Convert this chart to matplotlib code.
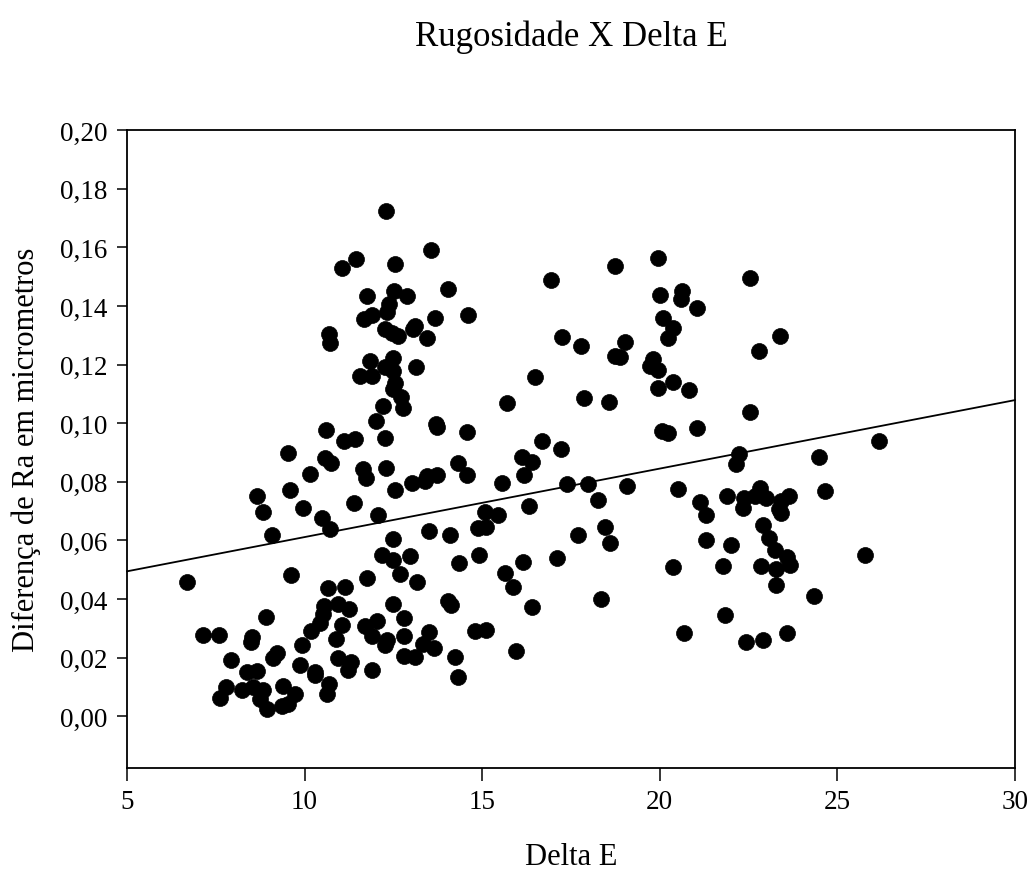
import matplotlib
matplotlib.use("Agg")
import matplotlib.pyplot as plt
import numpy as np

plt.rcParams['font.family'] = ['Liberation Serif', 'DejaVu Serif']

title = "Rugosidade X Delta E"
x_label = "Delta E"
y_label = "Diferença de Ra em micrometros"

delta_e = [
    6.68, 7.13, 7.60, 7.62, 7.79, 7.92, 8.24, 8.37, 8.49, 8.53,
    8.56, 8.66, 8.74, 8.84, 8.93, 8.90, 8.67, 8.84, 9.07, 9.12,
    9.21, 9.35, 9.40, 9.52, 9.54, 9.59, 9.61, 9.73, 9.86, 9.94,
    9.96, 10.15, 10.19, 10.29, 10.30, 10.43, 10.48, 10.53, 10.56, 10.57,
    10.60, 10.64, 10.69, 10.67, 10.72, 10.75, 10.70, 10.72, 10.87, 10.95,
    10.95, 11.04, 11.04, 11.12, 11.14, 11.23, 11.26, 11.32, 11.40, 11.42,
    11.44, 11.56, 11.65, 11.66, 11.69, 11.72, 11.75, 11.76, 11.84, 11.89,
    11.90, 11.91, 11.91, 12.00, 12.04, 12.08, 12.17, 12.21, 12.25, 12.25,
    12.25, 12.25, 12.28, 12.29, 12.31, 12.33, 12.39, 12.48, 12.48, 12.48,
    12.48, 12.48, 12.48, 12.46, 12.53, 12.54, 12.54, 12.54, 12.63, 12.69,
    12.70, 12.77, 12.81, 12.81, 12.81, 12.88, 12.96, 13.01, 13.06, 13.10,
    13.10, 13.14, 13.16, 13.34, 13.40, 13.44, 13.44, 13.49, 13.51, 13.55,
    13.64, 13.66, 13.70, 13.72, 13.72, 14.04, 14.04, 14.09, 14.11, 14.23,
    14.31, 14.33, 14.36, 14.56, 14.58, 14.60, 14.80, 14.88, 14.90, 15.08,
    15.10, 15.12, 15.45, 15.57, 15.64, 15.71, 15.87, 15.95, 16.13, 16.14,
    16.19, 16.32, 16.39, 16.41, 16.50, 16.69, 16.95, 17.10, 17.22, 17.25,
    17.40, 17.71, 17.78, 17.87, 17.99, 18.25, 18.34, 18.47, 18.56, 18.61,
    18.73, 18.74, 18.88, 19.02, 19.08, 19.73, 19.80, 19.96, 19.96, 19.96,
    20.00, 20.05, 20.10, 20.22, 20.23, 20.36, 20.38, 20.38, 20.52, 20.60,
    20.63, 20.69, 20.82, 21.04, 21.05, 21.13, 21.30, 21.30, 21.79, 21.84,
    21.90, 22.00, 22.14, 22.24, 22.33, 22.38, 22.42, 22.54, 22.54, 22.68,
    22.78, 22.82, 22.86, 22.91, 22.91, 23.00, 23.07, 23.24, 23.28, 23.28,
    23.35, 23.39, 23.40, 23.40, 23.57, 23.59, 23.64, 23.66, 24.35, 24.49,
    24.65, 25.79, 26.17,
]

ra_diff = [
    0.0460, 0.0276, 0.0276, 0.0063, 0.0101, 0.0193, 0.0090, 0.0150, 0.0253, 0.0270,
    0.0100, 0.0156, 0.0060, 0.0090, 0.0026, 0.0339, 0.0751, 0.0696, 0.0617, 0.0200,
    0.0215, 0.0035, 0.0105, 0.0043, 0.0898, 0.0772, 0.0483, 0.0075, 0.0174, 0.0242,
    0.0711, 0.0826, 0.0290, 0.0153, 0.0140, 0.0320, 0.0676, 0.0350, 0.0378, 0.0880,
    0.0978, 0.0077, 0.0111, 0.0438, 0.0640, 0.0864, 0.1304, 0.1273, 0.0265, 0.0382,
    0.0200, 0.0313, 0.1529, 0.0940, 0.0443, 0.0159, 0.0365, 0.0187, 0.0727, 0.0947,
    0.1560, 0.1162, 0.0844, 0.1355, 0.0307, 0.0813, 0.0473, 0.1434, 0.1213, 0.1162,
    0.0274, 0.0157, 0.1370, 0.1006, 0.0324, 0.0687, 0.0552, 0.1060, 0.0242, 0.0949,
    0.1190, 0.1321, 0.0848, 0.1724, 0.0259, 0.1379, 0.1406, 0.0382, 0.0532, 0.0605,
    0.1117, 0.1179, 0.1221, 0.1308, 0.1451, 0.1542, 0.0772, 0.1137, 0.1299, 0.0486,
    0.1089, 0.1052, 0.0206, 0.0274, 0.0336, 0.1434, 0.0546, 0.0796, 0.1321, 0.1332,
    0.0202, 0.1193, 0.0457, 0.0248, 0.0804, 0.0821, 0.1290, 0.0633, 0.0288, 0.1591,
    0.0233, 0.1360, 0.0997, 0.0986, 0.0824, 0.1457, 0.0392, 0.0619, 0.0381, 0.0203,
    0.0136, 0.0864, 0.0523, 0.0971, 0.0823, 0.1370, 0.0290, 0.0642, 0.0549, 0.0698,
    0.0295, 0.0645, 0.0688, 0.0795, 0.0489, 0.1068, 0.0443, 0.0223, 0.0886, 0.0526,
    0.0824, 0.0719, 0.0867, 0.0373, 0.1158, 0.0940, 0.1488, 0.0540, 0.0912, 0.1295,
    0.0793, 0.0617, 0.1264, 0.1085, 0.0793, 0.0739, 0.0399, 0.0645, 0.1071, 0.0592,
    0.1537, 0.1230, 0.1225, 0.1276, 0.0787, 0.1194, 0.1219, 0.1562, 0.1181, 0.1119,
    0.1438, 0.0974, 0.1358, 0.1290, 0.0967, 0.1323, 0.1141, 0.0509, 0.0776, 0.1424,
    0.1451, 0.0285, 0.1114, 0.1392, 0.0982, 0.0730, 0.0687, 0.0603, 0.0514, 0.0346,
    0.0751, 0.0585, 0.0861, 0.0896, 0.0710, 0.0744, 0.0253, 0.1495, 0.1039, 0.0753,
    0.1245, 0.0778, 0.0514, 0.0653, 0.0262, 0.0744, 0.0608, 0.0566, 0.0503, 0.0449,
    0.0708, 0.1297, 0.0694, 0.0736, 0.0543, 0.0285, 0.0753, 0.0518, 0.0412, 0.0884,
    0.0768, 0.0549, 0.0938,
]

# regression line
fit_intercept = 0.0378
fit_slope = 0.002336

x_ticks = [5, 10, 15, 20, 25, 30]
y_ticks = [0.00, 0.02, 0.04, 0.06, 0.08, 0.10, 0.12, 0.14, 0.16, 0.18, 0.20]
x_range = (5, 30)
y_range = (-0.0176, 0.20)

fig = plt.figure(figsize=(10.31, 8.70), dpi=100)
ax = fig.add_axes([127 / 1031, 1 - 769 / 870, (1015 - 127) / 1031, (769 - 131) / 870])

ax.plot(delta_e, ra_diff, linestyle='none', marker='o', markersize=11.5,
        markerfacecolor='black', markeredgecolor='black', markeredgewidth=0.5,
        zorder=3)

fit_x = np.array(x_range, dtype=float)
ax.plot(fit_x, fit_intercept + fit_slope * fit_x, color='black', linewidth=1.3,
        zorder=2, clip_on=False)

ax.set_xlim(*x_range)
ax.set_ylim(*y_range)
ax.set_xticks(x_ticks)
ax.set_xticklabels([str(t) for t in x_ticks])
ax.set_yticks(y_ticks)
ax.set_yticklabels([f"{t:.2f}".replace('.', ',') for t in y_ticks])

for s in ax.spines.values():
    s.set_linewidth(1.3)
ax.tick_params(axis='x', direction='out', length=9, width=1.1, labelsize=19.5, pad=6)
ax.tick_params(axis='y', direction='out', length=7, width=1.1, labelsize=19.5, pad=7)

ax.set_xlabel(x_label, fontsize=22, labelpad=20)
ax.set_ylabel(y_label, fontsize=22, labelpad=14)
fig.text(571 / 1031, 1 - 37 / 870, title, ha='center', va='center', fontsize=25)

fig.savefig("out.png", dpi=100)
